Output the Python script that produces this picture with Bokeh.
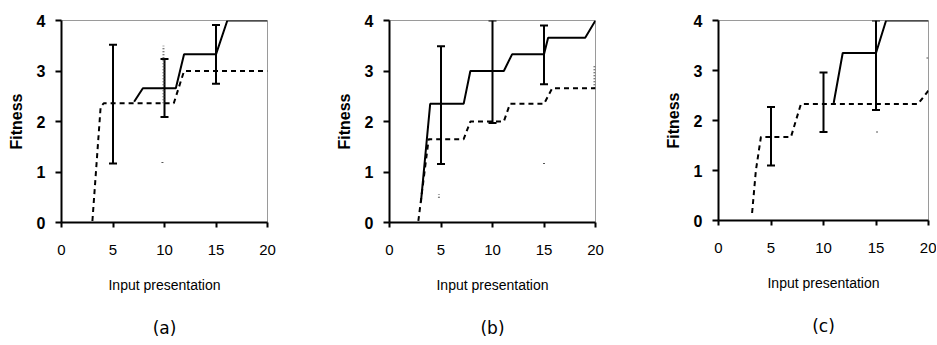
from bokeh.plotting import figure
from bokeh.models import Whisker, TeeHead, ColumnDataSource, Title, FixedTicker, Range1d
from bokeh.layouts import row
from bokeh.embed import file_html
from bokeh.resources import INLINE

# ---------------- data ----------------
captions = ["(a)", "(b)", "(c)"]
x_ticks = [0, 5, 10, 15, 20]
y_ticks = [0, 1, 2, 3, 4]

# panel (a)
a_solid_x = [7.05, 7.9, 11.1, 11.9, 15.0, 16.1, 20]
a_solid_y = [2.39, 2.66, 2.66, 3.33, 3.33, 4.0, 4.0]
a_dash_x = [3.0, 3.8, 4.1, 10.9, 11.9, 20]
a_dash_y = [0.03, 2.29, 2.36, 2.36, 3.0, 3.0]
a_err_x = [5, 10, 15]
a_err_lo = [1.17, 2.09, 2.75]
a_err_hi = [3.52, 3.24, 3.91]
a_ferr_x = [9.9, 9.8]
a_ferr_lo = [2.36, 1.18]
a_ferr_hi = [3.5, 1.24]

# panel (b)
b_solid_x = [3.05, 3.95, 7.2, 7.85, 11.1, 11.9, 15.0, 15.4, 19.0, 20]
b_solid_y = [0.4, 2.35, 2.35, 3.0, 3.0, 3.33, 3.33, 3.66, 3.66, 4.0]
b_dash_x = [2.8, 3.8, 7.2, 7.85, 11.1, 11.7, 15.0, 15.8, 20]
b_dash_y = [0.03, 1.65, 1.65, 2.0, 2.0, 2.35, 2.35, 2.66, 2.66]
b_err_x = [5, 10, 15]
b_err_lo = [1.16, 1.97, 2.74]
b_err_hi = [3.49, 4.0, 3.9]
b_ferr_x = [4.8, 15, 19.9]
b_ferr_lo = [0.49, 1.16, 2.66]
b_ferr_hi = [0.56, 1.22, 3.1]

# panel (c)
c_solid_x = [10.97, 11.83, 15.0, 15.96, 20]
c_solid_y = [2.35, 3.35, 3.35, 4.0, 4.0]
c_dash_x = [3.2, 3.56, 4.04, 6.9, 7.85, 19.0, 20]
c_dash_y = [0.15, 1.0, 1.67, 1.67, 2.33, 2.33, 2.6]
c_err_x = [5, 10, 15]
c_err_lo = [1.10, 1.77, 2.21]
c_err_hi = [2.27, 2.96, 4.0]
c_ferr_x = [15.1, 19.9]
c_ferr_lo = [1.76, 3.24]
c_ferr_hi = [1.82, 3.3]

panels = [
    (a_solid_x, a_solid_y, a_dash_x, a_dash_y, a_err_x, a_err_lo, a_err_hi, a_ferr_x, a_ferr_lo, a_ferr_hi),
    (b_solid_x, b_solid_y, b_dash_x, b_dash_y, b_err_x, b_err_lo, b_err_hi, b_ferr_x, b_ferr_lo, b_ferr_hi),
    (c_solid_x, c_solid_y, c_dash_x, c_dash_y, c_err_x, c_err_lo, c_err_hi, c_ferr_x, c_ferr_lo, c_ferr_hi),
]

# layout geometry (per panel)
frame_w = [206, 206, 210]
frame_h = [202, 202, 200]
border_l = [61, 61, 61]
border_r = [61, 62, 8]
border_t = [17, 17, 20]

ARIAL = "Liberation Sans, Arial, sans-serif"

figs = []
for i, (sx, sy, dx, dy, ex, elo, ehi, fx, flo, fhi) in enumerate(panels):
    p = figure(frame_width=frame_w[i], frame_height=frame_h[i],
               x_range=Range1d(0, 20), y_range=Range1d(0, 4),
               output_backend="svg", toolbar_location=None,
               min_border_left=border_l[i], min_border_right=border_r[i],
               min_border_top=border_t[i], min_border_bottom=0)
    p.grid.visible = False
    p.outline_line_color = "#9a9a9a"
    p.outline_line_width = 1
    p.background_fill_color = "white"
    p.border_fill_color = "white"

    for ax in (p.xaxis[0], p.yaxis[0]):
        ax.axis_line_color = "black"
        ax.axis_line_width = 2
        ax.major_tick_line_color = "black"
        ax.major_tick_line_width = 2
        ax.major_tick_in = 0
        ax.minor_tick_line_color = None
        ax.major_label_text_color = "black"
        ax.axis_label_text_color = "black"

    p.xaxis.ticker = FixedTicker(ticks=x_ticks)
    p.yaxis.ticker = FixedTicker(ticks=y_ticks)
    p.xaxis.major_tick_out = 5
    p.yaxis.major_tick_out = 6
    p.xaxis.major_label_standoff = 17
    p.yaxis.major_label_standoff = 10
    p.xaxis.major_label_text_font = ARIAL
    p.xaxis.major_label_text_font_size = "15px"
    p.yaxis.major_label_text_font = ARIAL
    p.yaxis.major_label_text_font_style = "bold"
    p.yaxis.major_label_text_font_size = "16px"

    p.xaxis.axis_label = "Input presentation"
    p.xaxis.axis_label_text_font = ARIAL
    p.xaxis.axis_label_text_font_style = "normal"
    p.xaxis.axis_label_text_font_size = "14px"
    p.xaxis.axis_label_standoff = 19

    p.yaxis.axis_label = "Fitness"
    p.yaxis.axis_label_text_font = ARIAL
    p.yaxis.axis_label_text_font_style = "bold"
    p.yaxis.axis_label_text_font_size = "16px"
    p.yaxis.axis_label_standoff = 9

    # faint (dotted) error bars of the dashed series
    p.segment(x0=fx, y0=flo, x1=fx, y1=fhi, line_color="#555555",
              line_width=2, line_dash="1 2")

    # series lines
    p.line(dx, dy, line_color="black", line_width=2, line_dash="5 4")
    p.line(sx, sy, line_color="black", line_width=2)

    # error bars
    src = ColumnDataSource(dict(x=ex, lo=elo, hi=ehi))
    w = Whisker(base="x", lower="lo", upper="hi", source=src,
                line_color="black", line_width=2,
                upper_head=TeeHead(size=8, line_color="black", line_width=2),
                lower_head=TeeHead(size=8, line_color="black", line_width=2))
    p.add_layout(w)

    cap = Title(text=captions[i], align="center", text_font="DejaVu Sans",
                text_font_style="normal", text_font_size="17px",
                text_color="black", standoff=41)
    p.add_layout(cap, "below")
    figs.append(p)

layout = row(*figs)
html = file_html(layout, INLINE)
html = html.replace("<head>", "<head><style>html,body{overflow:hidden;}</style>", 1)
open("out.html", "w").write(html)
